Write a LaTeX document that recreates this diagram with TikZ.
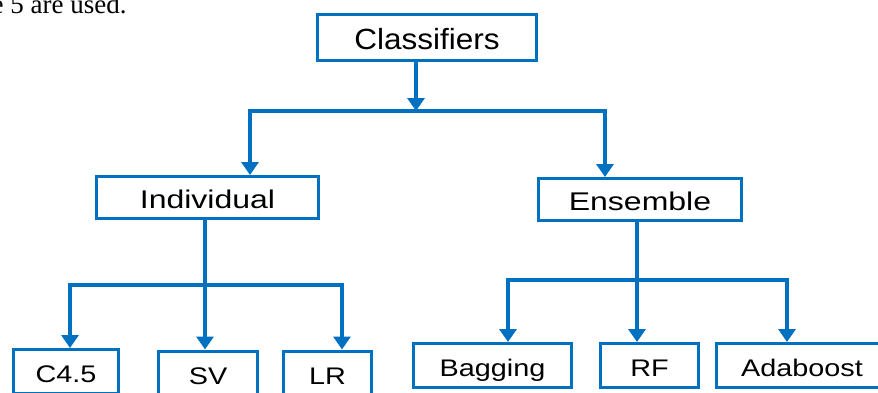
\documentclass[tikz,border=0pt]{standalone}
\usepackage{fontspec}
\setmainfont{Liberation Serif}
\newfontfamily\boxfont[FakeStretch=1.2]{Liberation Sans}
\newfontfamily\midfont[FakeStretch=1.25]{Liberation Sans}
\newfontfamily\headfont[FakeStretch=1.08]{Liberation Sans}
\usetikzlibrary{arrows.meta}
\definecolor{boxblue}{RGB}{0,112,192}
\tikzset{
  box/.style={draw=boxblue, line width=1.5pt, inner sep=0pt, minimum height=22pt,
    text height=11pt, text depth=0pt, font=\boxfont\fontsize{12}{14}\selectfont},
  midbox/.style={box, minimum height=21pt, font=\midfont\fontsize{12.8}{15}\selectfont},
  link/.style={draw=boxblue, line width=2pt, line cap=rect},
  arr/.style={link, -{Triangle[width=8.5pt,length=6.5pt]}}
}
\begin{document}
\begin{tikzpicture}[x=0.5pt,y=-0.5pt]
\path[use as bounding box] (0,0) rectangle (878,392);
\clip (0,0) rectangle (878,392);
\node[anchor=base east, inner sep=0pt, font=\fontsize{13.5}{15}\selectfont] (txt) at (127,13.5) {e 5 are used.};
\node[box, minimum width=109.5pt, minimum height=23pt, text height=11.5pt, font=\headfont\fontsize{14.6}{16}\selectfont] (cls) at (427,37.5) {Classifiers};
\node[midbox, minimum width=111pt] (ind) at (207.5,197.5) {Individual};
\node[midbox, minimum width=101.5pt] (ens) at (640,199.5) {Ensemble};
\node[box, minimum width=52.5pt] (c45) at (66,371.5) {C4.5};
\node[box, minimum width=49.5pt] (sv) at (208,373) {SV};
\node[box, minimum width=44pt] (lr) at (327.5,373) {LR};
\node[box, minimum width=79pt] (bag) at (492.5,365.5) {Bagging};
\node[box, minimum width=49pt] (rf) at (649.5,365.5) {RF};
\node[box, minimum width=86pt] (ada) at (802,365.5) {Adaboost};
\coordinate (top) at (416,111);
\coordinate (jl) at (250,111);
\coordinate (jr) at (605,111);
\draw[arr] (top |- cls.south) -- (top);
\draw[link] (jl) -- (jr);
\draw[arr] (jl) -- (jl |- ind.north);
\draw[arr] (jr) -- (jr |- ens.north);
\coordinate (il) at (70,285);
\coordinate (im) at (205,285);
\coordinate (ir) at (342,285);
\draw[link] (im |- ind.south) -- (im);
\draw[link] (il) -- (ir);
\draw[arr] (il) -- (il |- c45.north);
\draw[arr] (im) -- (im |- sv.north);
\draw[arr] (ir) -- (ir |- lr.north);
\coordinate (el) at (508,280);
\coordinate (em) at (637,280);
\coordinate (er) at (787,280);
\draw[link] (em |- ens.south) -- (em);
\draw[link] (el) -- (er);
\draw[arr] (el) -- (el |- bag.north);
\draw[arr] (em) -- (em |- rf.north);
\draw[arr] (er) -- (er |- ada.north);
\end{tikzpicture}
\end{document}
